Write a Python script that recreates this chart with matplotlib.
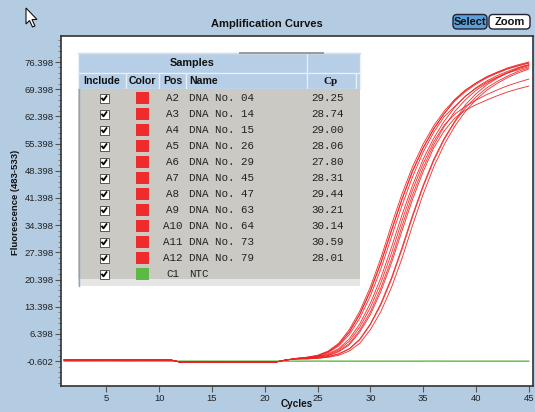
import numpy as np
import matplotlib.pyplot as plt
from matplotlib.patches import Rectangle, FancyBboxPatch, Polygon
from matplotlib.ticker import AutoMinorLocator

plt.rcParams['font.family'] = ['Liberation Sans', 'DejaVu Sans']

# --- data ---
cycles = np.arange(1, 46)
positions = ['A2', 'A3', 'A4', 'A5', 'A6', 'A7', 'A8', 'A9', 'A10', 'A11', 'A12', 'C1']
names = ['DNA No. 04', 'DNA No. 14', 'DNA No. 15', 'DNA No. 26', 'DNA No. 29', 'DNA No. 45',
         'DNA No. 47', 'DNA No. 63', 'DNA No. 64', 'DNA No. 73', 'DNA No. 79', 'NTC']
cp_values = ['29.25', '28.74', '29.00', '28.06', '27.80', '28.31', '29.44', '30.21',
             '30.14', '30.59', '28.01', '']
sample_colors = ['#ee2c2c'] * 11 + ['#5cb946']

# flat part of the sample curves, cycles 1-22
baseline_red = [-0.3, -0.25, -0.3, -0.3, -0.25, -0.3, -0.3, -0.25, -0.3, -0.3, -0.25,
                -0.85, -0.85, -0.8, -0.85, -0.85, -0.8, -0.85, -0.85, -0.8, -0.85, -0.3]
# amplification part, cycles 23-45 (same order as positions)
rise_values = [
    [0.0, 0.1, 0.4, 0.9, 2.0, 3.9, 7.4, 12.1, 18.3, 25.7, 34.2, 42.2, 49.2, 55.1, 59.8, 63.7, 66.7, 69.1, 70.9, 72.4, 73.7, 74.7, 75.5],
    [0.0, 0.2, 0.6, 1.3, 2.6, 5.1, 9.0, 14.3, 20.9, 28.7, 37.1, 44.7, 51.4, 56.8, 61.2, 64.8, 67.6, 69.8, 71.5, 72.9, 74.0, 75.0, 75.7],
    [0.0, 0.1, 0.5, 1.1, 2.3, 4.5, 8.2, 13.2, 19.6, 27.2, 35.6, 43.5, 50.3, 55.9, 60.2, 63.0, 65.0, 66.6, 68.0, 69.2, 70.3, 71.2, 72.0],
    [0.1, 0.3, 0.8, 1.8, 3.6, 6.8, 11.4, 17.3, 24.6, 32.9, 41.0, 48.2, 54.2, 59.1, 63.1, 66.6, 69.1, 71.0, 72.6, 73.8, 74.9, 75.7, 76.4],
    [0.1, 0.4, 0.9, 2.0, 4.0, 7.5, 12.3, 18.5, 26.0, 34.5, 42.5, 49.5, 55.3, 60.0, 63.8, 66.8, 69.2, 71.0, 72.5, 73.7, 74.7, 75.5, 76.2],
    [0.1, 0.3, 0.7, 1.6, 3.3, 6.2, 10.5, 16.2, 23.2, 31.4, 39.5, 46.9, 53.2, 58.3, 62.4, 65.0, 67.6, 69.6, 71.2, 72.5, 73.6, 74.4, 75.2],
    [0.0, 0.1, 0.4, 0.8, 1.8, 3.6, 6.9, 11.4, 17.4, 24.7, 33.0, 41.1, 48.2, 54.3, 58.7, 62.0, 64.0, 65.4, 66.6, 67.7, 68.7, 69.5, 70.2],
    [0.0, 0.0, 0.2, 0.5, 1.2, 2.5, 4.9, 8.8, 13.9, 20.5, 28.2, 36.6, 44.3, 51.0, 56.5, 61.0, 64.6, 67.4, 69.7, 71.4, 72.8, 74.0, 74.9],
    [0.0, 0.0, 0.2, 0.6, 1.3, 2.6, 5.1, 9.0, 14.3, 20.9, 28.7, 37.1, 44.7, 51.4, 56.8, 61.2, 65.4, 68.2, 70.5, 72.2, 73.6, 74.8, 75.7],
    [0.0, 0.0, 0.1, 0.4, 0.9, 2.0, 4.0, 7.5, 12.2, 18.4, 25.9, 34.4, 42.4, 49.4, 55.2, 59.9, 63.7, 66.7, 69.1, 70.9, 72.4, 73.6, 74.6],
    [0.1, 0.4, 0.8, 1.8, 3.7, 7.0, 11.6, 17.6, 24.9, 33.2, 41.3, 48.5, 54.4, 59.3, 63.2, 66.4, 68.8, 70.7, 72.3, 73.5, 74.6, 75.4, 76.1],
]
ntc_values = [-0.60, -0.61, -0.60, -0.60, -0.59, -0.60, -0.61, -0.60, -0.60, -0.60,
              -0.61, -0.60, -0.60, -0.59, -0.60, -0.60, -0.61, -0.60, -0.60, -0.60,
              -0.60, -0.61, -0.60, -0.60, -0.59, -0.60, -0.60, -0.61, -0.60, -0.60,
              -0.60, -0.60, -0.61, -0.60, -0.60, -0.59, -0.60, -0.60, -0.61, -0.60,
              -0.60, -0.60, -0.60, -0.61, -0.60]
y_ticks = [-0.602, 6.398, 13.398, 20.398, 27.398, 34.398, 41.398, 48.398, 55.398,
           62.398, 69.398, 76.398]
x_ticks = [5, 10, 15, 20, 25, 30, 35, 40, 45]

bg = '#b4cce2'
fig = plt.figure(figsize=(5.35, 4.12), dpi=100, facecolor=bg)
ax = fig.add_axes([61 / 535, 26 / 412, 472 / 535, 350 / 412])
ax.set_facecolor('white')

ax.plot(cycles, ntc_values, color='#5cb946', lw=1.0, zorder=2)
for rise in rise_values:
    ax.plot(cycles, baseline_red + rise, color='#ee2222', lw=0.65, alpha=0.9, zorder=3)

ax.set_xlim(0.7, 45.4)
ax.set_ylim(-7.0, 83.1)
ax.set_yticks(y_ticks)
ax.set_yticklabels(['%.3f' % v for v in y_ticks])
ax.set_xticks(x_ticks)
ax.yaxis.set_minor_locator(AutoMinorLocator(5))
ax.tick_params(axis='both', which='major', length=4, width=0.8, color='#555',
               labelsize=6.8, labelcolor='#222', pad=1.5)
ax.tick_params(axis='y', which='minor', length=2, width=0.6, color='#777')
for s in ax.spines.values():
    s.set_color('#333')
    s.set_linewidth(1.2)
ax.set_ylabel('Fluorescence (483-533)', fontsize=6.8, fontweight='bold', color='#111')
ax.yaxis.set_label_coords(-0.087, 0.526)
ax.set_xlabel('Cycles', fontsize=7.2, fontweight='bold', color='#111')
ax.xaxis.set_label_coords(0.5, -0.038)

# --- overlay in pixel units: title, buttons, cursor, sample table ---
ov = fig.add_axes([0, 0, 1, 1], zorder=5)
ov.set_xlim(0, 535)
ov.set_ylim(412, 0)
ov.axis('off')

ov.text(267, 24, 'Amplification Curves', ha='center', va='center',
        fontsize=8, fontweight='bold', color='#111')

for label, x0, w, face in [('Select', 453, 34, '#5a9fd8'), ('Zoom', 489, 41, 'white')]:
    ov.add_patch(FancyBboxPatch((x0, 14.5), w, 14.5, boxstyle='round,pad=0,rounding_size=4',
                                facecolor=face, edgecolor='#223', lw=1.0))
    ov.text(x0 + w / 2, 22, label, ha='center', va='center', fontsize=8,
            fontweight='bold', color='#111')

ov.add_patch(Polygon([(26, 8), (26, 24), (29.5, 20.5), (32.5, 27), (35, 26),
                      (32, 19.5), (37, 19.5)], closed=True,
                     facecolor='white', edgecolor='#111', lw=0.8))

head_face = '#b6cee6'
head_edge = '#e8f0f8'
ov.add_patch(Rectangle((78, 53), 229, 19.7, facecolor=head_face, edgecolor=head_edge, lw=0.9))
ov.add_patch(Rectangle((307, 53), 53, 19.7, facecolor=head_face, edgecolor=head_edge, lw=0.9))
ov.text(192, 63, 'Samples', ha='center', va='center', fontsize=7.8, fontweight='bold', color='#111')
ov.plot([78, 360], [53, 53], color='#d8dde2', lw=1.0)
ov.plot([240, 323], [52.6, 52.6], color='#9a9a9a', lw=1.4)

col_edges = [78, 126, 159, 186, 307, 356, 360]
for a, b in zip(col_edges[:-1], col_edges[1:]):
    ov.add_patch(Rectangle((a, 72.7), b - a, 16.6, facecolor=head_face, edgecolor=head_edge, lw=0.9))
hdr = dict(va='center', fontsize=7.6, fontweight='bold', color='#111')
ov.text(102, 81, 'Include', ha='center', **hdr)
ov.text(142.5, 81, 'Color', ha='center', **hdr)
ov.text(172.5, 81, 'Pos', ha='center', **hdr)
ov.text(189, 81, 'Name', ha='left', **hdr)
ov.text(331, 81, 'Cp', ha='center', va='center', fontsize=8, fontweight='bold',
        color='#111', family=['Liberation Serif', 'DejaVu Serif'])

ov.add_patch(Rectangle((78, 89.3), 282, 189.7, facecolor='#cbc9c3', edgecolor='none'))
ov.add_patch(Rectangle((78, 279), 282, 7, facecolor='#e6e6e6', edgecolor='none'))
ov.plot([78.5, 78.5], [89.3, 286], color='#7fa7d0', lw=1.0)

mono = dict(va='center', fontsize=7.8, color='#222', family=['Liberation Mono', 'DejaVu Sans Mono'])
for i, (pos, name, cp, col) in enumerate(zip(positions, names, cp_values, sample_colors)):
    yc = 98 + 16 * i
    ov.add_patch(Rectangle((99.5, yc - 4.5), 9, 9, facecolor='white', edgecolor='#555', lw=0.7))
    ov.plot([101.5, 103.5, 107], [yc - 0.2, yc + 2.3, yc - 2.6], color='black', lw=1.3,
            solid_capstyle='butt')
    ov.add_patch(Rectangle((136, yc - 6), 13, 12, facecolor=col, edgecolor='none'))
    ov.text(172.5, yc, pos, ha='center', **mono)
    ov.text(189, yc, name, ha='left', **mono)
    if cp:
        ov.text(328, yc, cp, ha='center', **mono)

fig.savefig('out.png', dpi=100, facecolor=bg)
